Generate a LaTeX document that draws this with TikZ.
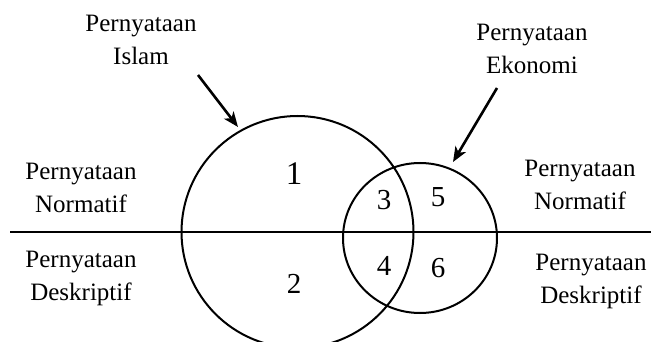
\documentclass[tikz,border=0pt]{standalone}
\usepackage{fontspec}
\setmainfont{Liberation Serif}
\usetikzlibrary{arrows.meta}
\begin{document}
\begin{tikzpicture}[x=1pt,y=-1pt,
  lbl/.style={align=center,inner sep=0pt,anchor=base,font=\fontsize{25}{33}\selectfont},
  num/.style={inner sep=0pt,anchor=base,font=\fontsize{29}{33}\selectfont},
  ring/.style={draw,line width=2pt},
  pointer/.style={line width=2.6pt,-{Stealth[length=15pt,width=12pt,inset=4pt]}}]
\useasboundingbox (0,0) rectangle (651,342);
% sets
\draw[ring] (297.5,232) circle (116);
\draw[ring] (420,238) ellipse [x radius=77, y radius=75];
% divider
\coordinate (lineL) at (10,232);
\coordinate (lineR) at (651,232);
\draw[line width=2pt] (lineL) -- (lineR);
% labels (anchor = baseline of last line)
\node[lbl] (islam) at (141,65) {Pernyataan\\Islam};
\node[lbl] (ekonomi) at (532,74) {Pernyataan\\Ekonomi};
\node[lbl] (normL) at (81,212) {Pernyataan\\Normatif};
\node[lbl] (deskL) at (81,300) {Pernyataan\\Deskriptif};
\node[lbl] (normR) at (580,210) {Pernyataan\\Normatif};
\node[lbl] (deskR) at (591,303) {Pernyataan\\Deskriptif};
% numbers
\node[num,font=\fontsize{33}{33}\selectfont] (n1) at (294,185) {1};
\node[num] (n2) at (294,293) {2};
\node[num] (n3) at (384,210) {3};
\node[num] (n4) at (384,275) {4};
\node[num] (n5) at (438,207) {5};
\node[num] (n6) at (438,277) {6};
% arrows
\coordinate (aS) at (198,75);
\coordinate (aT) at (238,127);
\coordinate (bS) at (497,88);
\coordinate (bT) at (453,162);
\draw[pointer] (aS) -- (aT);
\draw[pointer] (bS) -- (bT);
\end{tikzpicture}
\end{document}
